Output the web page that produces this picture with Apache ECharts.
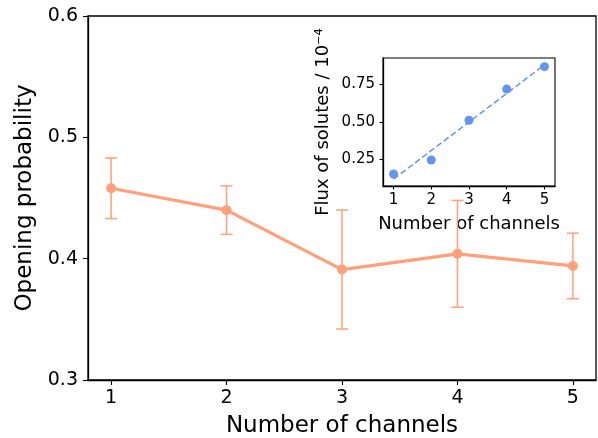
<!DOCTYPE html>
<html>
<head>
<meta charset="utf-8">
<script src="https://cdn.jsdelivr.net/npm/echarts@6/dist/echarts.min.js"></script>
<style>
  html, body { margin: 0; padding: 0; background: #fff; }
  #chart { width: 598px; height: 438px; }
</style>
</head>
<body>
<div id="chart"></div>
<script>
// main plot data
var channels = [1, 2, 3, 4, 5];
var openProb = [0.458, 0.440, 0.391, 0.404, 0.394];
var probErr = [0.025, 0.020, 0.049, 0.044, 0.027];
var mainTicks = [1, 2, 3, 4, 5];

// inset data
var flux = [0.151, 0.245, 0.511, 0.719, 0.869];
var fitX = [1, 5];
var fitY = [0.117, 0.881];
var insetTicks = [1, 2, 3, 4, 5];
var insetYTicks = [0.25, 0.5, 0.75];

var orange = '#FFA07A';
var blue = '#6495ED';
var font = 'DejaVu Sans';

var chart = echarts.init(document.getElementById('chart'));

var errData = channels.map(function (c, i) {
    return [c, openProb[i] - probErr[i], openProb[i] + probErr[i]];
});

function axisCommon(size, margin) {
    return {
        axisLine: { show: true, onZero: false, lineStyle: { color: '#000', width: 1.3 } },
        axisTick: { show: true, inside: false, length: 5, lineStyle: { color: '#000', width: 1.1 } },
        axisLabel: { color: '#000', fontSize: size, fontFamily: font, margin: margin },
        splitLine: { show: false }
    };
}

var xMain = Object.assign(axisCommon(19, 9), {
    gridIndex: 0, type: 'value', min: 0.8, max: 5.2,
    name: 'Number of channels', nameLocation: 'middle', nameGap: 35,
    nameTextStyle: { color: '#000', fontSize: 23, fontFamily: font }
});
xMain.axisTick.customValues = mainTicks;
xMain.axisLabel.customValues = mainTicks;

var yMain = Object.assign(axisCommon(19, 10), {
    gridIndex: 0, type: 'value', min: 0.3, max: 0.6, interval: 0.1,
    name: 'Opening probability', nameLocation: 'middle', nameGap: 49,
    nameTextStyle: { color: '#000', fontSize: 23, fontFamily: font }
});
yMain.axisLabel.formatter = function (v) { return v.toFixed(1); };

var xIn = Object.assign(axisCommon(15, 7), {
    gridIndex: 1, type: 'value', min: 0.72, max: 5.28,
    name: 'Number of channels', nameLocation: 'middle', nameGap: 29,
    nameTextStyle: { color: '#000', fontSize: 18, fontFamily: font }
});
xIn.axisTick.customValues = insetTicks;
xIn.axisLabel.customValues = insetTicks;
xIn.axisTick.length = 3.5;

var yIn = Object.assign(axisCommon(15, 8), {
    gridIndex: 1, type: 'value', min: 0.071, max: 0.927,
    name: 'Flux of solutes / 10⁻⁴', nameLocation: 'middle', nameGap: 51,
    nameTextStyle: { color: '#000', fontSize: 18, fontFamily: font }
});
yIn.axisTick.customValues = insetYTicks;
yIn.axisTick.length = 3.5;
yIn.axisLabel.customValues = insetYTicks;
yIn.axisLabel.formatter = function (v) { return v.toFixed(2); };

var option = {
    animation: false,
    backgroundColor: '#fff',
    grid: [
        { left: 88, top: 16, right: 2, bottom: 58, outerBoundsMode: 'none', containLabel: false,
          show: true, borderColor: '#000', borderWidth: 1.3, backgroundColor: 'transparent' },
        { left: 383, top: 58, width: 172, height: 128, outerBoundsMode: 'none', containLabel: false,
          show: true, borderColor: '#000', borderWidth: 1.1, backgroundColor: '#fff' }
    ],
    xAxis: [xMain, xIn],
    yAxis: [yMain, yIn],
    series: [
        {
            type: 'custom', xAxisIndex: 0, yAxisIndex: 0, z: 2,
            data: errData,
            renderItem: function (params, api) {
                var lo = api.coord([api.value(0), api.value(1)]);
                var hi = api.coord([api.value(0), api.value(2)]);
                var w = 6;
                var st = { stroke: orange, lineWidth: 1.5 };
                return { type: 'group', children: [
                    { type: 'line', shape: { x1: lo[0], y1: lo[1], x2: hi[0], y2: hi[1] }, style: st },
                    { type: 'line', shape: { x1: lo[0] - w, y1: lo[1], x2: lo[0] + w, y2: lo[1] }, style: st },
                    { type: 'line', shape: { x1: hi[0] - w, y1: hi[1], x2: hi[0] + w, y2: hi[1] }, style: st }
                ] };
            }
        },
        {
            type: 'line', xAxisIndex: 0, yAxisIndex: 0, z: 3,
            data: channels.map(function (c, i) { return [c, openProb[i]]; }),
            symbol: 'circle', symbolSize: 10,
            lineStyle: { color: orange, width: 3.2 },
            itemStyle: { color: orange }
        },
        {
            type: 'line', xAxisIndex: 1, yAxisIndex: 1, z: 5,
            data: fitX.map(function (x, i) { return [x, fitY[i]]; }),
            symbol: 'none',
            lineStyle: { color: blue, width: 1.5, type: [6, 3] }
        },
        {
            type: 'scatter', xAxisIndex: 1, yAxisIndex: 1, z: 6,
            data: channels.map(function (c, i) { return [c, flux[i]]; }),
            symbolSize: 9,
            itemStyle: { color: blue, opacity: 1 }
        }
    ]
};

chart.setOption(option);
</script>
</body>
</html>
